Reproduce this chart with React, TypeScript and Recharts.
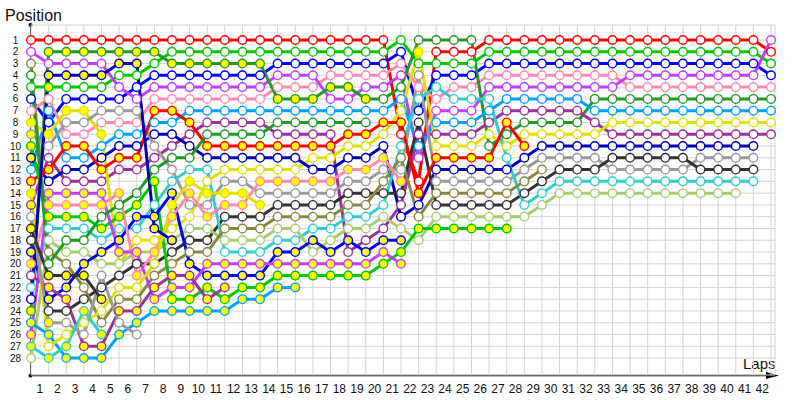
import React from 'react';
import { LineChart, Line, XAxis, YAxis, CartesianGrid } from 'recharts';

const _ = null;

const laps = [0, 1, 2, 3, 4, 5, 6, 7, 8, 9, 10, 11, 12, 13, 14, 15, 16, 17, 18, 19, 20, 21, 22, 23, 24, 25, 26, 27, 28, 29, 30, 31, 32, 33, 34, 35, 36, 37, 38, 39, 40, 41, 42];
const lapTicks = [1, 2, 3, 4, 5, 6, 7, 8, 9, 10, 11, 12, 13, 14, 15, 16, 17, 18, 19, 20, 21, 22, 23, 24, 25, 26, 27, 28, 29, 30, 31, 32, 33, 34, 35, 36, 37, 38, 39, 40, 41, 42];
const positionTicks = [1, 2, 3, 4, 5, 6, 7, 8, 9, 10, 11, 12, 13, 14, 15, 16, 17, 18, 19, 20, 21, 22, 23, 24, 25, 26, 27, 28];

// Position per lap (lap 0 .. 42), null = not running
const red1 = [1, 1, 1, 1, 1, 1, 1, 1, 1, 1, 1, 1, 1, 1, 1, 1, 1, 1, 1, 1, 1, 9, 13, 2, 2, 2, 1, 1, 1, 1, 1, 1, 1, 1, 1, 1, 1, 1, 1, 1, 1, 1, 2];
const green1 = [5, 5, 5, 5, 5, 4, 4, 3, 2, 2, 2, 2, 2, 2, 2, 2, 2, 2, 2, 2, 2, 1, 3, 3, 3, 3, 2, 2, 2, 2, 2, 2, 2, 2, 2, 2, 2, 2, 2, 2, 2, 2, 3];
const blue1 = [6, 8, 6, 6, 6, 6, 5, 4, 4, 4, 4, 4, 4, 4, 3, 3, 3, 3, 3, 3, 3, 2, 7, 4, 4, 4, 3, 3, 3, 3, 3, 3, 3, 3, 3, 3, 3, 3, 3, 3, 3, 3, 4];
const pink1 = [7, 6, 9, 9, 8, 8, 8, 6, 6, 6, 6, 6, 6, 6, 5, 5, 5, 4, 4, 4, 4, 3, 5, 6, 5, 5, 4, 4, 4, 4, 4, 4, 4, 4, 5, 5, 5, 5, 5, 5, 5, 5, 5];
const violet1 = [2, 3, 3, 3, 3, 5, 6, 5, 5, 5, 5, 5, 5, 5, 4, 4, 4, 6, 6, 5, 5, 4, 11, 7, 7, 7, 5, 5, 5, 5, 5, 5, 5, 5, 4, 4, 4, 4, 4, 4, 4, 4, 1];
const dkgreen1 = [24, 2, 2, 2, 2, 2, 2, 2, 3, 3, 3, 3, 3, 3, 6, 6, 6, 5, 5, 6, 6, 5, 1, 1, 1, 1, 10, 9, 8, 8, 8, 8, 6, 6, 6, 6, 6, 6, 6, 6, 6, 6, 6];
const ltblue1 = [12, 7, 11, 11, 10, 9, 9, 8, 8, 7, 7, 7, 7, 7, 7, 7, 7, 7, 7, 7, 7, 6, 10, 8, 8, 8, 7, 6, 6, 6, 6, 6, 7, 7, 7, 7, 7, 7, 7, 7, 7, 7, 7];
const purple1 = [15, 11, 13, 13, 13, 12, 12, 11, 10, 9, 8, 8, 8, 8, 9, 9, 9, 9, 19, 18, 17, 15, 9, 9, 9, 9, 8, 7, 7, 7, 7, 7, 8, 9, 9, 9, 9, 9, 9, 9, 9, 9, 9];
const yellow1 = [8, 9, 7, 7, 9, 20, 18, 18, 17, 16, 13, 12, 12, 12, 12, 12, 11, 11, 10, 10, 9, 7, 2, 10, 10, 10, 9, 10, 9, 9, 9, 9, 9, 8, 8, 8, 8, 8, 8, 8, 8, 8, 8];
const navy1 = [11, 13, 12, 12, 11, 10, 10, 9, 9, 10, 11, 11, 11, 11, 11, 11, 12, 12, 11, 11, 10, 16, 15, 12, 12, 12, 12, 12, 11, 10, 10, 10, 10, 10, 10, 10, 10, 10, 10, 10, 10, 10, _];
const grey1 = [9, 10, 8, 8, 7, 7, 7, 10, 12, 15, 15, 13, 13, 14, 14, 14, 14, 14, 13, 13, 12, 12, 4, 13, 13, 13, 13, 13, 12, 11, 11, 11, 11, 12, 12, 12, 12, 12, 11, 11, 11, 11, _];
const black1 = [18, 24, 24, 23, 22, 21, 20, 20, 19, 18, 18, 16, 16, 16, 15, 15, 15, 15, 14, 14, 14, 14, 8, 15, 15, 15, 15, 15, 14, 13, 12, 12, 12, 11, 11, 11, 11, 11, 12, 12, 12, 12, _];
const teal1 = [22, 17, 17, 17, 18, 17, 17, 15, 13, 12, 12, 19, 19, 19, 18, 18, 17, 17, 16, 16, 15, 10, 6, 5, 6, 6, 6, 11, 15, 14, 13, 13, 13, 13, 13, 13, 13, 13, 13, 13, 13, 13, _];
const ltgreen1 = [28, 18, 19, 19, 20, 20, 19, 19, 18, 17, 17, 18, 18, 18, 17, 17, 19, 18, 17, 17, 16, 17, 18, 16, 16, 16, 16, 16, 16, 15, 14, 14, 14, 14, 14, 14, 14, 14, 14, 14, 14];
const olive1 = [3, 19, 20, 22, 25, 23, 23, 21, 20, 19, 19, 17, 17, 17, 16, 16, 16, 16, 15, 15, 13, 11, 16, 14, 14, 14, 14, 14, 13, 12];
const red2 = [13, 12, 10, 10, 12, 11, 11, 7, 7, 8, 10, 10, 10, 10, 10, 10, 10, 10, 9, 9, 8, 8, 14, 11, 11, 11, 11, 8, 10];
const green2 = [10, 16, 16, 16, 17, 16, 15, 13, 23, 23, 22, 23, 22, 22, 21, 21, 21, 21, 21, 21, 20, 19, 17, 17, 17, 17, 17, 17];
const blue2 = [19, 23, 22, 20, 19, 18, 16, 16, 14, 20, 21, 21, 21, 21, 19, 19, 18, 19, 18, 19, 18, 18];
const pink2 = [20, 15, 15, 15, 15, 14, 21, 19, 16, 14, 16, 15, 15, 13, 13, 13, 13, 13, 12, 12, 11, 13];
const violet2 = [26, 14, 14, 14, 14, 19, 19, 23, 22, 22, 20, 20, 20, 20, 20, 20, 20, 20, 20, 20, 19, 20];
const dkgreen2 = [4, 20, 18, 18, 16, 15, 14, 12, 11, 11, 9, 9, 9, 9, 8, 8, 8, 8, 8, 8];
const ltblue2 = [25, 26, 28, 28, 28, 26, 25, 24, 24, 24, 24, 24, 23, 23, 22, 22];
const purple2 = [21, 22, 23, 27, 27, 24, 24, 22, 21, 21, 23, 22];
const yellow2 = [14, 27, 26, 25, 24, 22, 22, 20, 15, 13, 14, 14, 14, 15];
const navy2 = [23, 4, 4, 4, 4, 3, 3, 17, 18];
const grey2 = [16, 25, 25, 26, 21, 25, 26];
const black2 = [17, 21, 21, 21, 23];
const teal2 = [27, 28, 27, 24, 26];

// laps (inclusive ranges) drawn with a yellow-filled marker
const yellowRed1: number[][] = [];
const yellowGreen1 = [[1, 1]];
const yellowDkgreen1 = [[0, 19]];
const yellowPurple1 = [[0, 0]];
const yellowYellow1 = [[0, 5], [22, 22]];
const yellowNavy1 = [[0, 0]];
const yellowGrey1 = [[0, 0]];
const yellowRed2 = [[0, 28]];
const yellowGreen2 = [[0, 27]];
const yellowBlue2 = [[0, 21]];
const yellowPink2 = [[0, 21]];
const yellowViolet2 = [[0, 21]];
const yellowLtblue2 = [[0, 15]];
const yellowPurple2 = [[1, 11]];
const yellowYellow2 = [[0, 0], [8, 13]];
const yellowNavy2 = [[1, 8]];
const yellowGrey2 = [[1, 1]];
const yellowBlack2 = [[0, 4]];
const yellowTeal2 = [[0, 4]];

const C = {
  red: '#ff0000', green: '#00c800', blue: '#0000ff', pink: '#ff8aac', violet: '#c040ff',
  dkgreen: '#229922', ltblue: '#00a2ff', purple: '#993399', yellow: '#e0e000', navy: '#0000b4',
  grey: '#9a9a9a', black: '#333333', teal: '#33cccc', ltgreen: '#a8cc70', olive: '#888844',
};

type Driver = { key: string; color: string; pos: (number | null)[]; yellow: number[][] };

const drivers: Driver[] = [
  { key: 'red1', color: C.red, pos: red1, yellow: yellowRed1 },
  { key: 'green1', color: C.green, pos: green1, yellow: yellowGreen1 },
  { key: 'blue1', color: C.blue, pos: blue1, yellow: [] },
  { key: 'pink1', color: C.pink, pos: pink1, yellow: [] },
  { key: 'violet1', color: C.violet, pos: violet1, yellow: [] },
  { key: 'dkgreen1', color: C.dkgreen, pos: dkgreen1, yellow: yellowDkgreen1 },
  { key: 'ltblue1', color: C.ltblue, pos: ltblue1, yellow: [] },
  { key: 'purple1', color: C.purple, pos: purple1, yellow: yellowPurple1 },
  { key: 'yellow1', color: C.yellow, pos: yellow1, yellow: yellowYellow1 },
  { key: 'navy1', color: C.navy, pos: navy1, yellow: yellowNavy1 },
  { key: 'grey1', color: C.grey, pos: grey1, yellow: yellowGrey1 },
  { key: 'black1', color: C.black, pos: black1, yellow: [] },
  { key: 'teal1', color: C.teal, pos: teal1, yellow: [] },
  { key: 'ltgreen1', color: C.ltgreen, pos: ltgreen1, yellow: [] },
  { key: 'olive1', color: C.olive, pos: olive1, yellow: [] },
  { key: 'red2', color: C.red, pos: red2, yellow: yellowRed2 },
  { key: 'green2', color: C.green, pos: green2, yellow: yellowGreen2 },
  { key: 'blue2', color: C.blue, pos: blue2, yellow: yellowBlue2 },
  { key: 'pink2', color: C.pink, pos: pink2, yellow: yellowPink2 },
  { key: 'violet2', color: C.violet, pos: violet2, yellow: yellowViolet2 },
  { key: 'dkgreen2', color: C.dkgreen, pos: dkgreen2, yellow: [] },
  { key: 'ltblue2', color: C.ltblue, pos: ltblue2, yellow: yellowLtblue2 },
  { key: 'purple2', color: C.purple, pos: purple2, yellow: yellowPurple2 },
  { key: 'yellow2', color: C.yellow, pos: yellow2, yellow: yellowYellow2 },
  { key: 'navy2', color: C.navy, pos: navy2, yellow: yellowNavy2 },
  { key: 'grey2', color: C.grey, pos: grey2, yellow: yellowGrey2 },
  { key: 'black2', color: C.black, pos: black2, yellow: yellowBlack2 },
  { key: 'teal2', color: C.teal, pos: teal2, yellow: yellowTeal2 },
];

const W = 800;
const H = 400;
const PLOT_LEFT = 31;
const PLOT_RIGHT = 775;
const PLOT_TOP = 25;
const PLOT_BOTTOM = 375;
const X_MAX = 42.227;
const Y_DOMAIN: [number, number] = [-0.273, 29.438];
const HALF_LAP = (PLOT_RIGHT - PLOT_LEFT) / X_MAX / 2;
const FONT = "'Liberation Sans', Arial, sans-serif";
const FONT_NARROW = "'Liberation Sans Narrow', 'Liberation Sans', Arial, sans-serif";
const YELLOW_FILL = '#ffff00';

const data = laps.map((lap, i) => {
  const row: Record<string, number | null> = { lap };
  drivers.forEach((d) => {
    const v = d.pos[i];
    row[d.key] = v === undefined ? null : v;
  });
  return row;
});

const makeDot = (d: Driver) => (props: any) => {
  const { cx, cy, index, payload } = props;
  const k = `${d.key}-${index}`;
  if (cx == null || cy == null || !payload || payload[d.key] == null) return <g key={k} />;
  const lap = payload.lap;
  const isYellow = d.yellow.some(([a, b]) => lap >= a && lap <= b);
  return (
    <circle key={k} cx={cx} cy={cy} r={4.3} fill={isYellow ? YELLOW_FILL : '#ffffff'} stroke={d.color} strokeWidth={1.4} />
  );
};

const LapTick = (props: any) => {
  const { x, y, payload } = props;
  return (
    <text x={x - HALF_LAP} y={y} dy={10} textAnchor="middle" fontSize={12} fill="#111" fontFamily={FONT}>
      {payload.value}
    </text>
  );
};

const LeftTick = (props: any) => {
  const { x, y, payload } = props;
  return (
    <text x={x - 15.5} y={y} dy={3.6} textAnchor="middle" fontSize={10} fill="#111" fontFamily={FONT_NARROW}>
      {payload.value}
    </text>
  );
};

const RightTick = (props: any) => {
  const { x, y, payload } = props;
  return (
    <text x={x + 2} y={y} dy={3.6} textAnchor="start" fontSize={10} fill="#111" fontFamily={FONT_NARROW}>
      {payload.value}
    </text>
  );
};

export default function App() {
  return (
    <div style={{ position: 'absolute', left: 0, top: 0, width: W, height: H, background: '#ffffff' }}>
      <svg width={W} height={H} style={{ position: 'absolute', left: 0, top: 0 }}>
        <line x1={30.5} y1={PLOT_TOP} x2={30.5} y2={PLOT_BOTTOM + 0.5} stroke="#000" strokeWidth={1} />
        <line x1={30.5} y1={PLOT_BOTTOM + 0.5} x2={770} y2={PLOT_BOTTOM + 0.5} stroke="#000" strokeWidth={1.5} />
        <polygon points={`766,372 779,${PLOT_BOTTOM + 0.5} 766,379`} fill="#000" />
        <circle cx={30.5} cy={PLOT_TOP} r={2} fill="#000" />
        <circle cx={30.5} cy={PLOT_BOTTOM + 0.5} r={2} fill="#000" />
        <text x={5} y={21} fontSize={16} fill="#111" fontFamily={FONT}>Position</text>
        <text x={743} y={369} fontSize={15} fill="#111" fontFamily={FONT}>Laps</text>
      </svg>
      <div style={{ position: 'absolute', left: 0, top: 0 }}>
        <LineChart width={W} height={H} data={data} margin={{ top: PLOT_TOP, right: 0, bottom: 0, left: 0 }}>
          <CartesianGrid yAxisId="left" stroke="#d2d2d2" strokeWidth={1} />
          <XAxis
            type="number"
            dataKey="lap"
            domain={[0, X_MAX]}
            ticks={lapTicks}
            interval={0}
            height={H - PLOT_BOTTOM}
            tickLine={false}
            axisLine={false}
            tickSize={0}
            tickMargin={8}
            tick={LapTick}
          />
          <YAxis
            yAxisId="left"
            type="number"
            domain={Y_DOMAIN}
            reversed
            ticks={positionTicks}
            interval={0}
            width={PLOT_LEFT}
            tickLine={false}
            axisLine={false}
            tickSize={0}
            tickMargin={0}
            tick={LeftTick}
          />
          <YAxis
            yAxisId="right"
            orientation="right"
            type="number"
            domain={Y_DOMAIN}
            reversed
            ticks={positionTicks}
            interval={0}
            width={W - PLOT_RIGHT}
            tickLine={false}
            axisLine={false}
            tickSize={0}
            tickMargin={0}
            tick={RightTick}
          />
          {drivers.map((d) => (
            <Line
              key={d.key}
              yAxisId="left"
              type="linear"
              dataKey={d.key}
              stroke={d.color}
              strokeWidth={3}
              dot={makeDot(d)}
              activeDot={false}
              connectNulls={false}
              isAnimationActive={false}
            />
          ))}
        </LineChart>
      </div>
    </div>
  );
}
